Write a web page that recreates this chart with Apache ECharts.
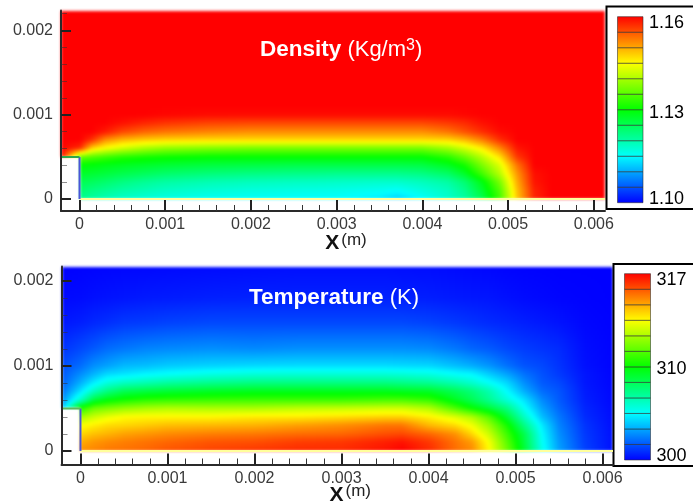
<!DOCTYPE html>
<html><head><meta charset="utf-8">
<style>html,body{margin:0;padding:0;background:#fff}#c{width:693px;height:501px}</style>
<script src="https://cdn.jsdelivr.net/npm/echarts@6/dist/echarts.min.js"></script>
</head><body><div id="c"></div>
<script>
const xMajorTicks = [0, 0.001, 0.002, 0.003, 0.004, 0.005, 0.006];
const xMinorTicks = [0.0002,0.0004,0.0006,0.0008,0.0012,0.0014,0.0016,0.0018,0.0022,0.0024,0.0026,0.0028,0.0032,0.0034,0.0036,0.0038,0.0042,0.0044,0.0046,0.0048,0.0052,0.0054,0.0056,0.0058];
const yMajorTicks = [0, 0.001, 0.002];
const yMinorTicks = [0.0002,0.0004,0.0006,0.0008,0.0012,0.0014,0.0016,0.0018,0.0022];

// Density field (kg/m3)
const densityX = [-0.000216,0,0.00015,0.0003,0.0005,0.00075,0.001,0.0015,0.002,0.0025,0.003,0.0035,0.0037,0.004,0.0043,0.0045,0.0047,0.0049,0.0051,0.0053,0.0055,0.006,0.00613];
const densityY = [0,0.0001,0.0002,0.0003,0.0004,0.0005,0.0006,0.0007,0.0008,0.0009,0.001,0.0011,0.002237];
const densityRows = [
[null,1.1216,1.1204,1.1192,1.118,1.1171,1.1165,1.1156,1.1153,1.115,1.115,1.1138,1.1123,1.115,1.118,1.1204,1.1252,1.1342,1.148,1.1576,1.16,1.16,1.16],
[null,1.1234,1.1222,1.1213,1.1201,1.1192,1.1183,1.1174,1.1168,1.1165,1.1162,1.1156,1.115,1.1168,1.1186,1.1216,1.127,1.1348,1.1486,1.1579,1.16,1.16,1.16],
[null,1.1252,1.1246,1.1237,1.1225,1.1213,1.1204,1.1195,1.1189,1.1186,1.1183,1.118,1.118,1.1189,1.1204,1.1234,1.1288,1.1372,1.1498,1.1588,1.16,1.16,1.16],
[null,1.1276,1.127,1.1264,1.1255,1.1246,1.1237,1.1228,1.1222,1.1219,1.1216,1.1216,1.1216,1.1222,1.124,1.1276,1.1336,1.1408,1.151,1.1591,1.16,1.16,1.16],
[null,1.13,1.1294,1.1288,1.1282,1.1276,1.127,1.1264,1.1261,1.1258,1.1258,1.1258,1.1258,1.1261,1.1282,1.1312,1.1372,1.1432,1.1531,1.16,1.16,1.16,1.16],
[1.16,1.136,1.1348,1.1336,1.1321,1.1312,1.1306,1.13,1.13,1.13,1.13,1.13,1.13,1.13,1.1324,1.136,1.1408,1.1468,1.1567,1.16,1.16,1.16,1.16],
[1.16,1.1576,1.148,1.145,1.1426,1.1402,1.1387,1.1378,1.1372,1.1372,1.1372,1.1372,1.1372,1.1372,1.1396,1.1426,1.1462,1.1522,1.1588,1.16,1.16,1.16,1.16],
[1.16,1.16,1.157,1.1516,1.1492,1.148,1.1474,1.1471,1.1471,1.1471,1.1471,1.1471,1.1471,1.1471,1.1474,1.1492,1.1525,1.1573,1.16,1.16,1.16,1.16,1.16],
[1.16,1.16,1.16,1.1585,1.1558,1.154,1.1531,1.1522,1.1516,1.1516,1.1516,1.1516,1.1516,1.1516,1.1531,1.1552,1.1573,1.1594,1.16,1.16,1.16,1.16,1.16],
[1.16,1.16,1.16,1.16,1.1591,1.1579,1.157,1.1561,1.1558,1.1558,1.1558,1.1558,1.1558,1.1558,1.1567,1.1576,1.1591,1.16,1.16,1.16,1.16,1.16,1.16],
[1.16,1.16,1.16,1.16,1.16,1.16,1.1597,1.1594,1.1594,1.1594,1.1594,1.1594,1.1594,1.1594,1.1594,1.1597,1.16,1.16,1.16,1.16,1.16,1.16,1.16],
[1.16,1.16,1.16,1.16,1.16,1.16,1.16,1.16,1.16,1.16,1.16,1.16,1.16,1.16,1.16,1.16,1.16,1.16,1.16,1.16,1.16,1.16,1.16],
[1.16,1.16,1.16,1.16,1.16,1.16,1.16,1.16,1.16,1.16,1.16,1.16,1.16,1.16,1.16,1.16,1.16,1.16,1.16,1.16,1.16,1.16,1.16]
];

// Temperature field (K)
const temperatureX = [-0.000218,0,0.00015,0.0003,0.0005,0.00075,0.001,0.0015,0.002,0.0025,0.003,0.0035,0.0037,0.004,0.0043,0.0045,0.0047,0.0049,0.0051,0.0053,0.0055,0.0058,0.00612];
const temperatureY = [0,0.0001,0.0002,0.0003,0.0004,0.0005,0.0006,0.0007,0.0008,0.0009,0.001,0.0012,0.0015,0.0018,0.00217];
const temperatureRows = [
[null,314.6,314.8,315,315.1,315.3,315.6,315.9,316.1,316.3,316.3,316.7,317,316.3,315.2,314.7,312.8,310.4,307.7,304.6,302.7,301.1,300.25],
[null,314.1,314.5,314.7,314.9,315.1,315.3,315.6,315.7,316,316.1,316.5,316.7,316.1,315.1,314.4,312.6,310,307.5,304.4,302.55,301,300.25],
[null,313.4,313.8,314,314.3,314.5,314.7,314.9,315,315.2,315.3,315.7,315.8,315.3,314.6,313.4,311.9,309.5,307.3,304.25,302.4,300.93,300.25],
[null,312.6,313,313.3,313.4,313.6,313.8,313.9,314,314.3,314.6,315,315,313.9,313.3,312.5,311,308.8,306.3,303.9,302.2,300.85,300.22],
[null,311.2,311.9,312.4,312.8,312.9,312.9,312.9,313.1,313.1,313.3,313.5,313.5,313,312.2,311.4,309.9,307.65,305.3,303.2,302,300.7,300.2],
[303.1,308.8,310.2,310.5,310.9,311.2,311.4,311.3,311.3,311.6,311.7,311.9,311.9,311.4,309.7,308.5,307.5,306.3,304.4,302.7,301.7,300.6,300.15],
[302.4,305.1,307.5,308.3,308.8,309.2,309.35,309.45,309.5,309.5,309.5,309.7,309.7,309.35,308,307.1,306.1,304.9,303.8,302.3,301.5,300.5,300.12],
[301.9,303.7,305.3,306.3,307.1,307.4,307.6,307.85,308,308,308,308,307.9,307.8,307.1,306.5,305.6,304.2,302.9,301.8,301.4,300.43,300.1],
[301.6,302.9,304,304.8,305.3,305.6,305.9,306.2,306.4,306.4,306.4,306.4,306.3,306.1,305.6,305.1,304.4,303.6,302.4,301.5,301.2,300.37,300.08],
[301.45,302.3,303,303.6,303.8,304.1,304.3,304.65,304.85,304.9,304.9,304.9,304.85,304.7,304.3,304.1,303.4,302.7,301.9,301.35,300.95,300.34,300.06],
[301.3,301.8,302.4,302.7,303.1,303.2,303.4,303.55,303.65,303.7,303.7,303.7,303.65,303.6,303.2,302.9,302.5,301.9,301.4,301.2,300.85,300.25,300.05],
[300.85,301.2,301.5,301.8,302,302.2,302.3,302.4,302.3,302.4,302.4,302.4,302.4,302.3,302,301.7,301.5,301.2,301,300.85,300.7,300.2,300.04],
[300.37,300.5,300.65,300.77,300.94,301,301.1,301.2,301.2,301.2,301.2,301.2,301.2,301.1,300.94,300.82,300.7,300.6,300.5,300.4,300.3,300.1,300.02],
[300.14,300.17,300.24,300.29,300.34,300.41,300.44,300.51,300.54,300.54,300.54,300.54,300.51,300.48,300.41,300.37,300.34,300.25,300.17,300.12,300.07,300.03,300],
[300,300.03,300.05,300.07,300.09,300.12,300.14,300.17,300.2,300.24,300.24,300.24,300.22,300.2,300.15,300.12,300.09,300.05,300.03,300.02,300,300,300]
];

// Colour-bar contour levels and their printed labels
const densityLevels = [1.10,1.105,1.11,1.115,1.12,1.125,1.13,1.135,1.14,1.145,1.15,1.155,1.16];
const densityBarLabels = ['1.10','','','','','','1.13','','','','','','1.16'];
const temperatureLevels = [300,301.4,302.8,304.3,305.7,307.1,308.5,309.9,311.3,312.8,314.2,315.6,317];
const temperatureBarLabels = ['300','','','','','','310','','','','','','317'];

const FONT = '"Liberation Sans", Arial, sans-serif';
const STOPS = [[0,0,255],[0,255,255],[0,255,0],[255,255,0],[255,0,0]];
function rainbow(t){
  t = Math.max(0, Math.min(1, t)) * 4;
  const i = Math.min(3, Math.floor(t)), f = t - i;
  const a = STOPS[i], b = STOPS[i+1];
  return 'rgb(' + Math.round(a[0]+(b[0]-a[0])*f) + ',' + Math.round(a[1]+(b[1]-a[1])*f) + ',' + Math.round(a[2]+(b[2]-a[2])*f) + ')';
}
function cells(xs, ys, rows){
  const out = [];
  for (let j = 0; j < ys.length-1; j++) for (let i = 0; i < xs.length-1; i++){
    const q = [rows[j][i], rows[j][i+1], rows[j+1][i], rows[j+1][i+1]];
    if (q.some(v => v === null || v === undefined)) continue;
    out.push([xs[i], xs[i+1], ys[j], ys[j+1], q[0], q[1], q[2], q[3]]);
  }
  return out;
}
function fieldRender(lo, hi){
  const STEP = 2;
  return function(params, api){
    const p0 = api.coord([api.value(0), api.value(2)]);
    const p1 = api.coord([api.value(1), api.value(3)]);
    const L = Math.round(p0[0]), R = Math.round(p1[0]), B = Math.round(p0[1]), T = Math.round(p1[1]);
    const v00 = api.value(4), v10 = api.value(5), v01 = api.value(6), v11 = api.value(7);
    const children = [];
    for (let y = T; y < B; y += STEP) {
      const h = Math.min(STEP, B - y), fy = (B - (y + h/2)) / (B - T || 1);
      for (let x = L; x < R; x += STEP) {
        const w = Math.min(STEP, R - x), fx = ((x + w/2) - L) / (R - L || 1);
        const v = (v00*(1-fx)+v10*fx)*(1-fy) + (v01*(1-fx)+v11*fx)*fy;
        children.push({type:'rect', shape:{x:x, y:y, width:w, height:h}, style:{fill:rainbow((v-lo)/(hi-lo))}});
      }
    }
    return {type:'group', children:children};
  };
}
function barRender(n){
  return function(params, api){
    const i = api.value(0);
    const a = api.coord([0, i]), b = api.coord([1, i+1]);
    return {type:'rect', shape:{x:a[0], y:b[1], width:b[0]-a[0], height:a[1]-b[1]},
      style:{fill:new echarts.graphic.LinearGradient(0,1,0,0,[{offset:0,color:rainbow(i/n)},{offset:1,color:rainbow((i+1)/n)}]), stroke:'rgba(40,40,40,0.55)', lineWidth:1}};
  };
}
function mainX(g, min, max, pad, gap){
  return {gridIndex:g, type:'value', min:min, max:max, position:'bottom', z:5,
    axisLine:{show:true, onZero:false, lineStyle:{color:'#2a2a2a', width:2}},
    axisTick:{show:true, inside:true, length:11, customValues:xMajorTicks, lineStyle:{color:'#222', width:2}},
    axisLabel:{show:true, customValues:xMajorTicks, margin:6, color:'#3a3a3a', fontFamily:FONT, fontSize:16},
    splitLine:{show:false},
    name:'{x|X}{m|(m)}', nameLocation:'middle', nameGap:gap, nameMoveOverlap:false,
    nameTextStyle:{padding:[0,0,0,pad], rich:{
      x:{fontFamily:FONT, fontWeight:'bold', fontSize:21, color:'#111', padding:[5,2,0,0]},
      m:{fontFamily:FONT, fontSize:17, color:'#222', padding:[0,0,2,0]}}}};
}
function minorX(g, min, max){
  return {gridIndex:g, type:'value', min:min, max:max, position:'bottom', z:5,
    axisLine:{show:false, onZero:false},
    axisTick:{show:true, inside:true, length:6, customValues:xMinorTicks, lineStyle:{color:'#333', width:1}},
    axisLabel:{show:false}, splitLine:{show:false}};
}
function mainY(g, min, max){
  return {gridIndex:g, type:'value', min:min, max:max, position:'left', z:5,
    axisLine:{show:true, onZero:false, lineStyle:{color:'#2a2a2a', width:2}},
    axisTick:{show:true, inside:true, length:10, customValues:yMajorTicks, lineStyle:{color:'#222', width:2}},
    axisLabel:{show:true, customValues:yMajorTicks, margin:8, color:'#3a3a3a', fontFamily:FONT, fontSize:16},
    splitLine:{show:false}};
}
function minorY(g, min, max){
  return {gridIndex:g, type:'value', min:min, max:max, position:'left', z:5,
    axisLine:{show:false, onZero:false},
    axisTick:{show:true, inside:true, length:6, customValues:yMinorTicks, lineStyle:{color:'rgba(50,50,50,0.55)', width:1}},
    axisLabel:{show:false}, splitLine:{show:false}};
}
function barX(g){ return {gridIndex:g, type:'value', min:0, max:1, show:false}; }
function barY(g, labels, midPad){
  const base = {fontFamily:FONT, fontSize:18, color:'#000'};
  return {gridIndex:g, type:'category', data:labels, boundaryGap:false, position:'right', z:5,
    axisLine:{show:false}, axisTick:{show:false}, splitLine:{show:false},
    axisLabel:{show:true, interval:0, margin:6, verticalAlign:'middle', color:'#000', fontFamily:FONT, fontSize:18,
      formatter:function(v, i){
        if (!v) return '';
        return i === 0 ? '{lo|'+v+'}' : (i === labels.length-1 ? '{hi|'+v+'}' : '{mid|'+v+'}');
      },
      rich:{lo:Object.assign({padding:[0,0,8,0]},base), hi:Object.assign({padding:[12,0,0,0]},base), mid:Object.assign({padding:[midPad,0,0,0]},base)}}};
}
function wall(xi, yi, pts, color){
  return {type:'line', xAxisIndex:xi, yAxisIndex:yi, data:pts, showSymbol:false, silent:true, z:4,
    lineStyle:{color:color, width:2}, animation:false};
}
const dMin = densityX[0], dMax = densityX[densityX.length-1];
const tMin = temperatureX[0], tMax = temperatureX[temperatureX.length-1];
const NOBOUNDS = {outerBoundsMode:'none', containLabel:false};

const option = {
  animation:false,
  title:[
    {left:255, top:33, textStyle:{fontFamily:FONT, rich:{
      b:{fontFamily:FONT, fontWeight:'bold', fontSize:22.5, color:'#fff'},
      r:{fontFamily:FONT, fontWeight:'normal', fontSize:22, color:'#fff'},
      s:{fontFamily:FONT, fontWeight:'normal', fontSize:16, color:'#fff', verticalAlign:'top', padding:[0,0,6,0]}}},
      text:'{b|Density}{r| (Kg/m}{s|3}{r|)}'},
    {left:244, top:281, textStyle:{fontFamily:FONT, rich:{
      b:{fontFamily:FONT, fontWeight:'bold', fontSize:22.5, color:'#fff'},
      r:{fontFamily:FONT, fontWeight:'normal', fontSize:22, color:'#fff'}}},
      text:'{b|Temperature}{r| (K)}'}
  ],
  graphic:[
    {type:'rect', z:1, shape:{x:606.5, y:6.5, width:90, height:202.5}, style:{fill:'#fff', stroke:'#000', lineWidth:2}},
    {type:'rect', z:1, shape:{x:613.5, y:264, width:90, height:202}, style:{fill:'#fff', stroke:'#000', lineWidth:2}}
  ],
  grid:[
    Object.assign({left:61, top:10.5, width:544, height:200.5}, NOBOUNDS),
    Object.assign({left:61.5, top:266.5, width:551.5, height:198}, NOBOUNDS),
    Object.assign({left:617.5, top:16.7, width:25.5, height:186}, NOBOUNDS),
    Object.assign({left:624.5, top:273.7, width:26, height:186.3}, NOBOUNDS)
  ],
  xAxis:[mainX(0,dMin,dMax,26,17), minorX(0,dMin,dMax), mainX(1,tMin,tMax,26,15), minorX(1,tMin,tMax), barX(2), barX(3)],
  yAxis:[mainY(0,-0.000142,0.002237), minorY(0,-0.000142,0.002237), mainY(1,-0.000159,0.00217), minorY(1,-0.000159,0.00217), barY(2,densityBarLabels,6), barY(3,temperatureBarLabels,4)],
  series:[
    {type:'custom', xAxisIndex:0, yAxisIndex:0, silent:true, clip:true, z:2, zlevel:-1, renderItem:fieldRender(1.10,1.16),
     encode:{x:[0,1], y:[2,3]}, data:cells(densityX,densityY,densityRows)},
    {type:'custom', xAxisIndex:2, yAxisIndex:2, silent:true, clip:true, z:2, zlevel:-1, renderItem:fieldRender(300,317),
     encode:{x:[0,1], y:[2,3]}, data:cells(temperatureX,temperatureY,temperatureRows)},
    wall(0,0,[[0,0],[dMax,0]],'#ffff9c'),
    wall(0,0,[[0,0],[0,0.0005]],'#4a55d8'),
    wall(0,0,[[dMin,0.0005],[0,0.0005]],'#2fa84a'),
    wall(2,2,[[0,0],[tMax,0]],'#ffff9c'),
    wall(2,2,[[0,0],[0,0.0005]],'#4a55d8'),
    wall(2,2,[[tMin,0.0005],[0,0.0005]],'#5cb85c'),
    {type:'custom', xAxisIndex:4, yAxisIndex:4, silent:true, z:3, renderItem:barRender(densityLevels.length-1),
     data:densityLevels.slice(0,-1).map((v,i)=>[i,v])},
    {type:'custom', xAxisIndex:5, yAxisIndex:5, silent:true, z:3, renderItem:barRender(temperatureLevels.length-1),
     data:temperatureLevels.slice(0,-1).map((v,i)=>[i,v])}
  ]
};
const chart = echarts.init(document.getElementById('c'), null, {renderer:'canvas', width:693, height:501});
chart.setOption(option);
const layers = chart.getDom().querySelectorAll('canvas');
if (layers.length > 1) layers[0].style.filter = 'blur(1.5px)';
</script></body></html>
